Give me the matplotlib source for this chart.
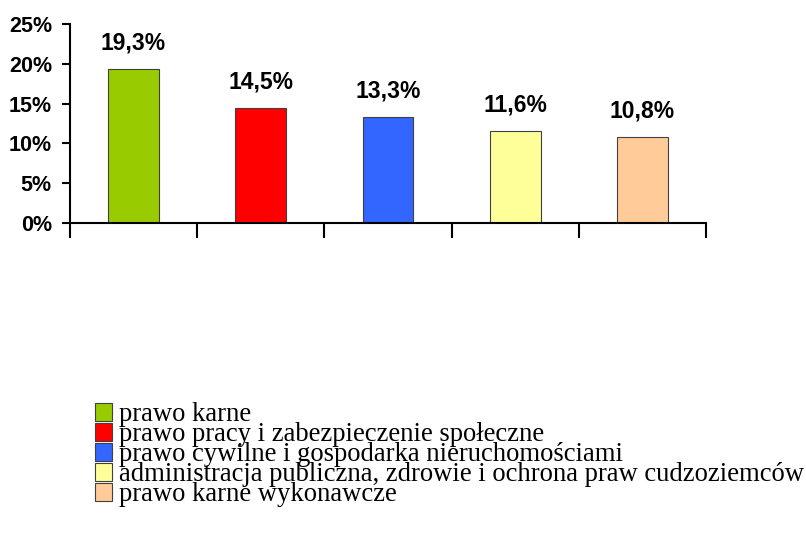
import matplotlib
matplotlib.use("Agg")
import matplotlib.pyplot as plt
from matplotlib.patches import Patch
from matplotlib.ticker import FuncFormatter

categories = ["prawo karne",
              "prawo pracy i zabezpieczenie społeczne",
              "prawo cywilne i gospodarka nieruchomościami",
              "administracja publiczna, zdrowie i ochrona praw cudzoziemców",
              "prawo karne wykonawcze"]
values = [19.3, 14.5, 13.3, 11.6, 10.8]
colors = ["#99CC00", "#FF0000", "#3366FF", "#FFFF99", "#FFCC99"]
yticks = [0, 5, 10, 15, 20, 25]

fig = plt.figure(figsize=(8.06, 5.38), dpi=100)
ax = fig.add_axes([0.0868, 0.5855, 0.7891, 0.37])

xs = [i + 0.5 for i in range(len(values))]
ax.bar(xs, values, width=0.4, color=colors, edgecolor="#404040", linewidth=0.8, zorder=2)
for x, v in zip(xs, values):
    ax.text(x, v + 1.8, f"{v:.1f}%".replace(".", ","), ha="center", va="bottom",
            fontsize=16.5, fontweight="bold", family="Liberation Sans")

ax.set_xlim(0, len(values))
ax.set_ylim(0, 25)
ax.set_yticks(yticks)
ax.yaxis.set_major_formatter(FuncFormatter(lambda v, p: f"{int(v)}%"))
ax.set_xticks(range(len(values) + 1))
ax.set_xticklabels([])
for s in ["top", "right"]:
    ax.spines[s].set_visible(False)
for s in ["left", "bottom"]:
    ax.spines[s].set_linewidth(1.5)
ax.tick_params(axis="x", direction="out", length=11, width=1.5)
ax.tick_params(axis="y", direction="out", length=6, width=1.5, labelsize=15.5, pad=7)
for lab in ax.get_yticklabels():
    lab.set_fontweight("bold")
    lab.set_family("Liberation Sans")

handles = [Patch(facecolor=c, edgecolor="#404040", linewidth=0.8) for c in colors]
fig.legend(handles, categories, loc="upper left", bbox_to_anchor=(0.118, 0.252),
           frameon=False, prop={"family": "Liberation Serif", "size": 19.2},
           handlelength=0.64, handleheight=0.64, handletextpad=0.27,
           labelspacing=-0.19, borderaxespad=0, borderpad=0)

fig.savefig("out.png", dpi=100)
